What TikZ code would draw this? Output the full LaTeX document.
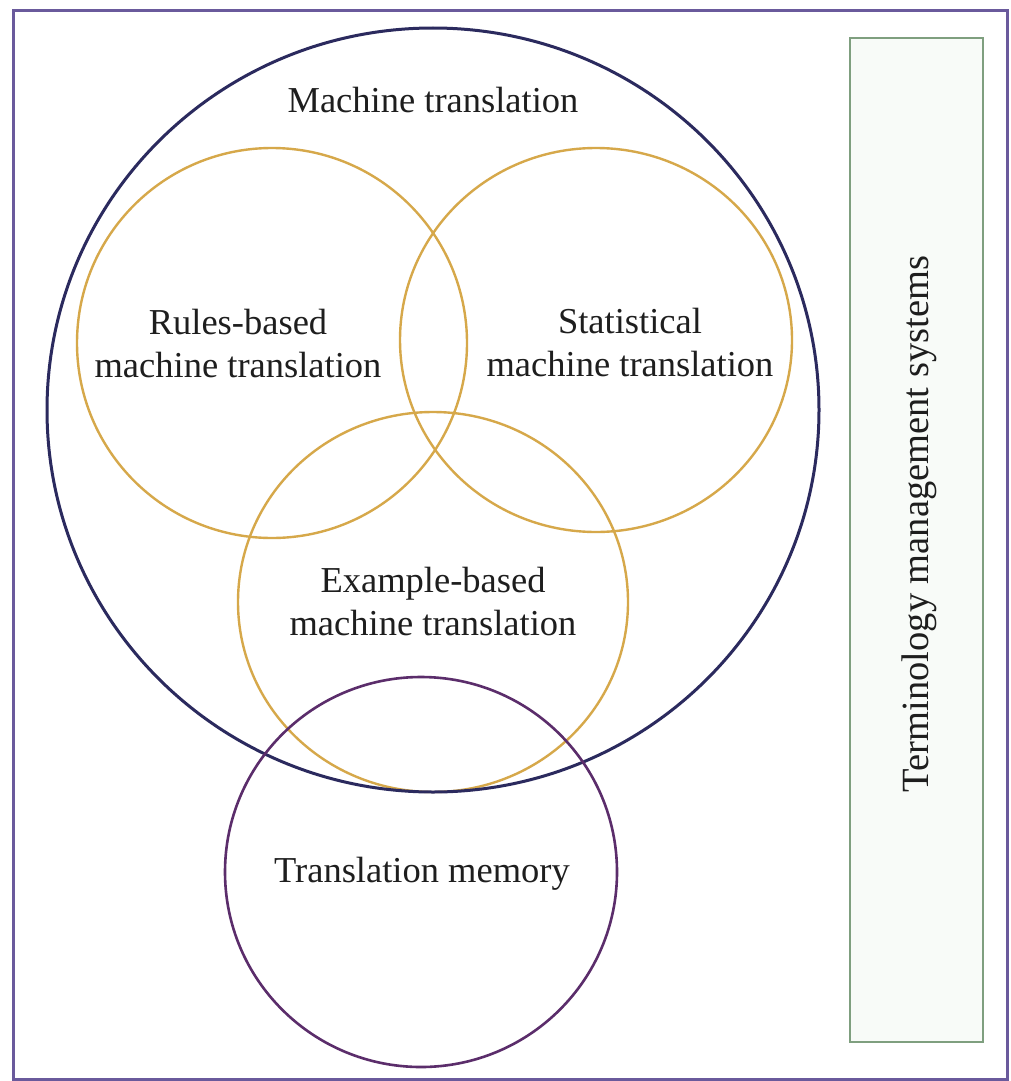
\documentclass[tikz,border=0pt]{standalone}
\usepackage{fontspec}
\setmainfont{Liberation Serif}
\definecolor{framec}{HTML}{6A5A9C}
\definecolor{bigc}{HTML}{2B2A5E}
\definecolor{goldc}{HTML}{D6A84A}
\definecolor{tmc}{HTML}{5B2D6B}
\definecolor{greenc}{HTML}{7F9F7F}
\definecolor{greenf}{HTML}{F8FBF8}
\definecolor{textc}{HTML}{1E1E1E}
\tikzset{
  lbl/.style={inner sep=0pt, text=textc, font=\fontsize{36.5}{43}\selectfont, align=center},
  goldring/.style={draw=goldc, line width=2.4pt},
  bigring/.style={draw=bigc, line width=3pt},
  tmring/.style={draw=tmc, line width=2.6pt},
}
\begin{document}
\begin{tikzpicture}[x=1pt,y=-1pt]
\useasboundingbox (0,0) rectangle (1011,1081);
\fill[white] (0,0) rectangle (1011,1081);
\draw[framec, line width=3pt] (13,11) rectangle (1007,1079);
\draw[greenc, fill=greenf, line width=2.6pt] (850,38) rectangle (983,1042);
% circles
\draw[goldring] (272,343) ellipse [x radius=195, y radius=195];
\draw[goldring] (596,340) ellipse [x radius=196, y radius=192];
\draw[goldring] (433,602) ellipse [x radius=195, y radius=190];
\draw[bigring] (433,410) ellipse [x radius=386, y radius=382];
\draw[tmring] (421,872) ellipse [x radius=196, y radius=195];
% labels
\node[lbl, anchor=base] (mt) at (433,112) {Machine translation};
\node[lbl] (rb) at (238,344) {Rules-based\\machine translation};
\node[lbl] (st) at (630,343) {Statistical\\machine translation};
\node[lbl] (eb) at (433,602) {Example-based\\machine translation};
\node[lbl, anchor=base] (tm) at (422,882) {Translation memory};
\node[lbl, rotate=90, font=\fontsize{38.5}{43}\selectfont] (tms) at (919,524) {Terminology management systems};
\end{tikzpicture}
\end{document}
